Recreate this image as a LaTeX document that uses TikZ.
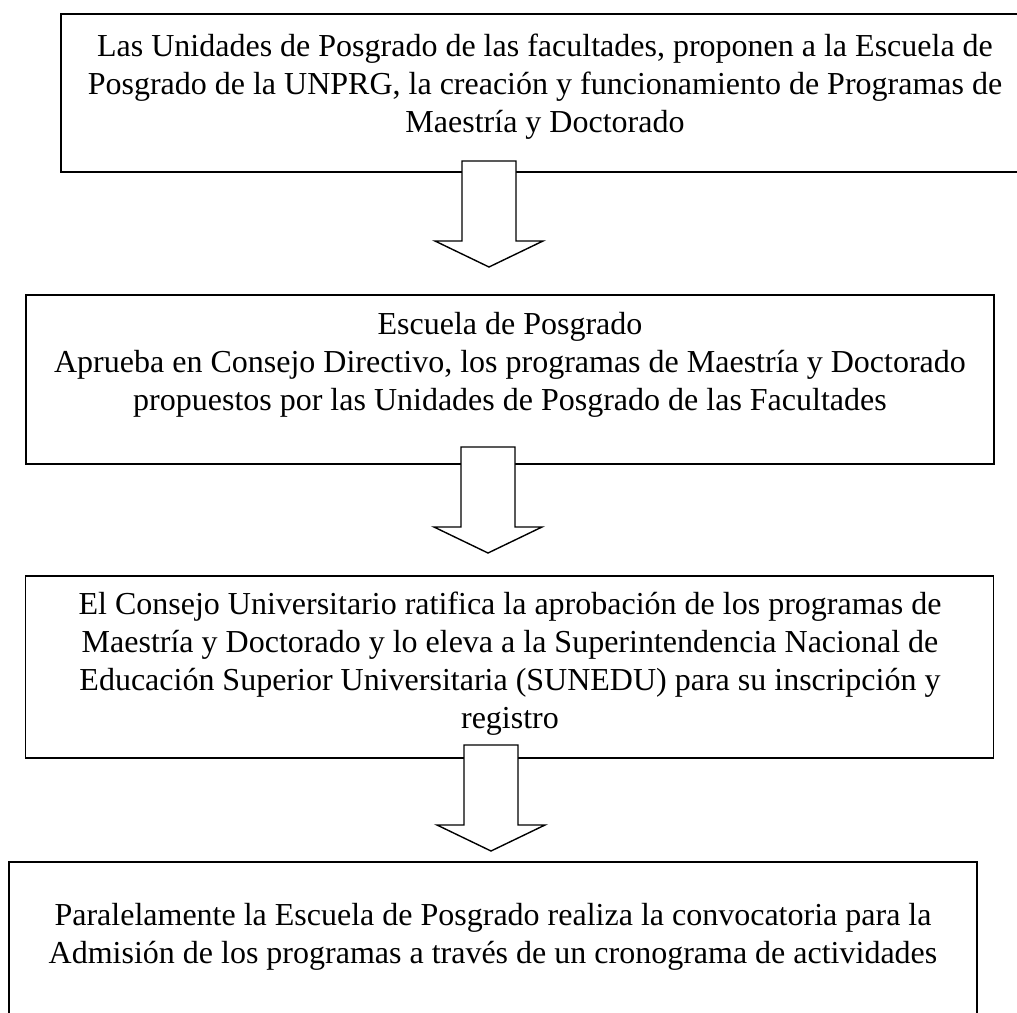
\documentclass[tikz,border=0pt]{standalone}
\usepackage{fontspec}
\setmainfont{Liberation Serif}
\tikzset{
	box/.style={draw, line width=0.7pt, minimum width=484pt, inner sep=0pt},
	txt/.style={anchor=base, align=center, inner sep=0pt, font=\fontsize{16pt}{19pt}\selectfont},
	pics/bigarrow/.style={code={
		\draw[fill=white, line width=0.7pt] (-27,0) -- (27,0) -- (27,80) -- (54,80) -- (0,106) -- (-54,80) -- (-27,80) -- cycle;
	}}
}
\begin{document}
\begin{tikzpicture}[x=0.5pt, y=-0.5pt]
		\useasboundingbox (0,0) rectangle (1017,1012);

		% boxes
		\node[box, minimum height=79pt] (b1) at (545,93) {};
		\node[box, minimum height=84.5pt] (b2) at (510,379.5) {};
		\node[box, minimum height=91pt] (b3) at (509.5,667) {};
		\node[box, minimum height=84pt] (b4) at (493,946) {};

		% texts (anchored at the baseline of the last line)
		\node[txt] (t1) at (545,132) {Las Unidades de Posgrado de las facultades, proponen a la Escuela de\\Posgrado de la UNPRG, la creación y funcionamiento de Programas de\\Maestría y Doctorado};
		\node[txt] (t2) at (510,410) {Escuela de Posgrado\\Aprueba en Consejo Directivo, los programas de Maestría y Doctorado\\propuestos por las Unidades de Posgrado de las Facultades};
		\node[txt] (t3) at (510,728) {El Consejo Universitario ratifica la aprobación de los programas de\\Maestría y Doctorado y lo eleva a la Superintendencia Nacional de\\Educación Superior Universitaria (SUNEDU) para su inscripción y\\registro};
		\node[txt] (t4) at (493,963) {Paralelamente la Escuela de Posgrado realiza la convocatoria para la\\Admisión de los programas a través de un cronograma de actividades};

		% arrows
		\coordinate (a1) at (489,161);
		\coordinate (a2) at (488,447);
		\coordinate (a3) at (491,745);
		\pic at (a1) {bigarrow};
		\pic at (a2) {bigarrow};
		\pic at (a3) {bigarrow};
	\end{tikzpicture}
\end{document}
